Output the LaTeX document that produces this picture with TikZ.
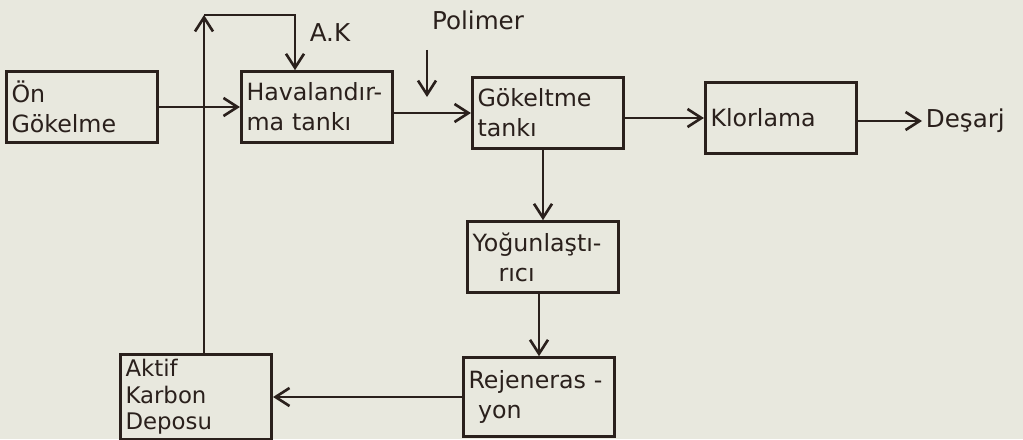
\documentclass[tikz,border=0pt]{standalone}
\usepackage{fontspec}
\setmainfont{DejaVu Sans}
\usepackage{tikz}
\usetikzlibrary{arrows.meta,calc,positioning}
\definecolor{paper}{RGB}{232,232,222}
\definecolor{ink}{RGB}{42,32,28}
\tikzset{
  box/.style={rectangle,draw=ink,line width=1.5pt,minimum width=3cm,
    minimum height=1.42cm,text width=2.82cm,align=left,inner sep=3pt,
    text=ink,font=\fontsize{13.5}{17}\selectfont},
  tallbox/.style={box,minimum height=1.58cm},
  lab/.style={text=ink,inner sep=2pt,font=\fontsize{14}{17}\selectfont},
  arr/.style={-{Straight Barb[length=2.8mm,width=3.6mm]},draw=ink,line width=1.5pt}
}
\begin{document}
\begin{tikzpicture}[x=0.02cm,y=-0.02cm]
 \fill[paper] (0,0) rectangle (1023,439);
 \useasboundingbox (0,0) rectangle (1023,439);
 % main line: pre-settling to discharge
 \node[box] (on)    at (82,107)  {Ön\\Gökelme};
 \node[box] (hava)  at (317,107) {Havalandır-\\ma tankı};
 \node[box] (gok)   at (548,113) {Gökeltme\\tankı};
 \node[box] (klor)  at (781,118) {Klorlama};
 \node[lab,anchor=west] (desarj) at (922,121) {Deşarj};
 % carbon branch
 \node[box] (yog)   at (543,257) {Yoğunlaştı-\\\hspace*{1.1em}rıcı};
 \node[tallbox] (rej)   at (539,397) {Rejeneras~-\\\hspace*{0.4em}yon};
 \node[tallbox,font=\fontsize{13}{15}\selectfont] (aktif) at (196,397) {Aktif\\Karbon\\Deposu};
 % labels of the two feeds
 \node[lab] (ak)  at (330,33) {A.K};
 \node[lab] (pol) at (478,20) {Polimer};
 \coordinate (polA) at (427,50);
 \coordinate (polB) at (427,97);
 \coordinate (loopL) at (204,15);
 \coordinate (loopR) at (295,15);

 \draw[arr] (on.east) -- (on.east -| hava.west);
 \draw[arr] (hava.east |- gok) -- (gok.west);
 \draw[arr] (gok.east |- klor) -- (klor.west);
 \draw[arr] (klor.east |- desarj.west) -- (desarj.west);
 \draw[arr] (polA) -- (polB);
 \draw[arr] (gok.south -| yog) -- (yog.north);
 \draw[arr] (yog.south -| rej) -- (rej.north);
 \draw[arr] (rej) -- (aktif);
 % activated carbon returned to the aeration tank
 \draw[arr] (aktif.north -| loopL) -- (loopL);
 \draw[arr] (loopL) -- (loopR) -- (loopR |- hava.north);
\end{tikzpicture}
\end{document}
